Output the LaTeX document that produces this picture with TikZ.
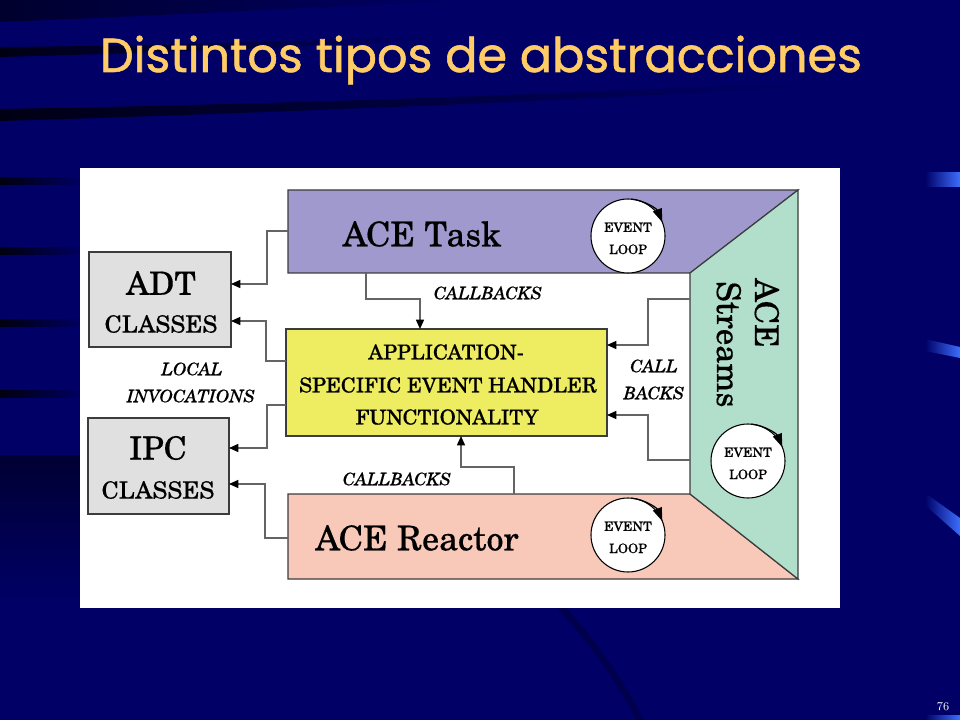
\documentclass[tikz,border=0pt]{standalone}
\usepackage{fontspec}
\newfontfamily\titlefont{Poppins}[FakeBold=1.2]
\newfontfamily\diafont{TeX Gyre Schola}[FakeBold=0.4]
\usetikzlibrary{arrows.meta,fadings}
\definecolor{navybg}{RGB}{0,0,102}
\definecolor{titlecol}{RGB}{255,204,102}
\definecolor{taskcol}{RGB}{160,153,205}
\definecolor{streamcol}{RGB}{178,222,204}
\definecolor{reactcol}{RGB}{248,200,184}
\definecolor{appcol}{RGB}{238,236,96}
\definecolor{classcol}{RGB}{224,224,224}
\definecolor{conncol}{RGB}{100,100,100}
\definecolor{edgecol}{RGB}{60,60,60}
\definecolor{barblue}{RGB}{60,110,255}
\begin{document}
\begin{tikzpicture}[x=0.75pt,y=-0.75pt,
  box/.style={draw=edgecol,line width=0.9pt,inner sep=0pt},
  shapeedge/.style={draw=edgecol,line width=0.9pt},
  conn/.style={draw=conncol,line width=1.1pt,-{Triangle[length=7pt,width=6pt,color=black]}},
  bigtxt/.style={inner sep=0pt,font=\diafont\fontsize{25.5pt}{30pt}\selectfont},
  strtxt/.style={inner sep=0pt,font=\diafont\fontsize{24.5pt}{30pt}\selectfont},
  adttxt/.style={inner sep=0pt,font=\diafont\fontsize{24pt}{28pt}\selectfont},
  clstxt/.style={inner sep=0pt,font=\diafont\fontsize{17.8pt}{21pt}\selectfont},
  apptxt/.style={inner sep=0pt,font=\diafont\fontsize{15.5pt}{18pt}\selectfont},
  lbltxt/.style={inner sep=0pt,font=\diafont\itshape\fontsize{13pt}{15pt}\selectfont},
  looptxt/.style={inner sep=0pt,font=\diafont\fontsize{9.8pt}{11pt}\selectfont},
  loopcirc/.style={circle,draw=black,line width=0.8pt,fill=white,minimum size=55.5pt,inner sep=0pt},
  looparrow/.style={draw=black,line width=0.9pt,-{Triangle[length=10pt,width=7pt]}}
]
\useasboundingbox (0,0) rectangle (960,720);
% background
\fill[navybg] (0,0) rectangle (960,720);
\fill[black,opacity=0.55,path fading=east] (0,0) -- (470,0) .. controls (300,8) and (150,16) .. (0,22) -- cycle;
\fill[black,opacity=0.8,path fading=east] (0,47) .. controls (150,46) and (300,41) .. (430,36) -- (430,40) .. controls (300,47) and (150,53) .. (0,57) -- cycle;
\fill[black,opacity=0.8,path fading=east] (0,109) .. controls (300,104) and (600,92) .. (800,83) -- (800,87) .. controls (600,99) and (300,112) .. (0,121) -- cycle;
\foreach \yy in {181,251,323,394} {
  \fill[black,opacity=0.85,path fading=east] (0,\yy-4) rectangle (85,\yy+4);
}
\fill[black,opacity=0.5,path fading=south] (0,455) rectangle (80,600);
\draw[black,opacity=0.25,line width=5pt] (560,606) .. controls (600,650) and (625,690) .. (640,720);
% right-hand blue bars
\shade[left color=navybg,right color=barblue] (925,173) rectangle (960,187);
\shade[left color=navybg,right color=barblue] (925,339) -- (960,347) -- (960,358) -- (925,351) -- cycle;
\shade[left color=navybg,right color=barblue] (925,493) -- (960,518) -- (960,536) -- (925,505) -- cycle;
\shade[left color=navybg,right color=barblue] (925,715) rectangle (960,720);
\node[text=white,inner sep=0pt,font=\fontsize{9pt}{10pt}\selectfont] (pnum) at (943,707) {76};
% title
\node[anchor=base,inner sep=0pt,text=titlecol,font=\titlefont\fontsize{35.8pt}{40pt}\selectfont] (title) at (481,72) {Distintos tipos de abstracciones};
% white panel
\fill[white] (80,168) rectangle (840,608);
% big shapes
\filldraw[fill=taskcol,shapeedge] (288,190) -- (798,190) -- (690,273) -- (288,273) -- cycle;
\filldraw[fill=reactcol,shapeedge] (288,494) -- (690,494) -- (798,579) -- (288,579) -- cycle;
\filldraw[fill=streamcol,shapeedge] (798,190) -- (798,579) -- (690,494) -- (690,273) -- cycle;
% boxes
\node[box,fill=classcol,minimum width=106.5pt,minimum height=71.25pt] (adt) at (160,299.5) {};
\node[box,fill=classcol,minimum width=105.75pt,minimum height=72pt] (ipc) at (158.5,466) {};
\node[box,fill=appcol,minimum width=240.75pt,minimum height=80.25pt] (app) at (446.5,382.5) {};
% texts
\node[bigtxt] (tasktxt) at (422,234) {ACE Task};
\node[bigtxt] (reacttxt) at (417,538) {ACE Reactor};
\node[strtxt,rotate=-90,anchor=base west] (streams1) at (755,278) {ACE};
\node[strtxt,rotate=-90,anchor=base west] (streams2) at (717,281) {Streams};
\node[adttxt] (adttxt) at (161,283) {ADT};
\node[clstxt] (adtcls) at (161,324) {CLASSES};
\node[adttxt] (ipctxt) at (158,448) {IPC};
\node[clstxt] (ipccls) at (158,490) {CLASSES};
\node[apptxt] (app1) at (446,352) {APPLICATION-};
\node[apptxt] (app2) at (448,385) {SPECIFIC EVENT HANDLER};
\node[apptxt] (app3) at (447,417) {FUNCTIONALITY};
\node[lbltxt] (cbtop) at (488,293) {CALLBACKS};
\node[lbltxt] (local) at (192,369) {LOCAL};
\node[lbltxt] (invoc) at (191,396) {INVOCATIONS};
\node[lbltxt] (call) at (654,366) {CALL};
\node[lbltxt] (backs) at (654,393) {BACKS};
\node[lbltxt] (cbbot) at (397,479) {CALLBACKS};
% event loops
\node[loopcirc] (loopT) at (628,236) {};
\node[loopcirc] (loopR) at (628,535) {};
\node[loopcirc] (loopS) at (748,461) {};
\foreach \c in {loopT,loopR,loopS} {
  \draw[looparrow] (\c) ++(-85:37) arc (-85:-22:37);
  \node[looptxt] at ([yshift=6.5pt]\c.center) {EVENT};
  \node[looptxt] at ([yshift=-10pt]\c.center) {LOOP};
}
% connector end points
\coordinate (tL) at (288,231);
\coordinate (tB) at (366,273);
\coordinate (rL) at (288,538);
\coordinate (rT) at (514,494);
\coordinate (sT) at (690,299);
\coordinate (sB) at (690,460);
\coordinate (appL1) at (286,361);
\coordinate (appL2) at (286,405);
\coordinate (appT) at (420,329);
\coordinate (appB) at (461,436);
\coordinate (appR1) at (607,345);
\coordinate (appR2) at (607,415);
\coordinate (adtR1) at (231,284);
\coordinate (adtR2) at (231,321);
\coordinate (ipcR1) at (229,448);
\coordinate (ipcR2) at (229,484);
% connectors
\draw[conn] (tL) -- (267,231) -- (267,284) -- (adtR1);
\draw[conn] (appL1) -- (266,361) -- (266,321) -- (adtR2);
\draw[conn] (appL2) -- (267,405) -- (267,448) -- (ipcR1);
\draw[conn] (rL) -- (265,538) -- (265,484) -- (ipcR2);
\draw[conn] (tB) -- (366,299) -- (420,299) -- (appT);
\draw[conn] (rT) -- (514,467) -- (461,467) -- (appB);
\draw[conn] (sT) -- (648,299) -- (648,345) -- (appR1);
\draw[conn] (sB) -- (648,460) -- (648,415) -- (appR2);
\end{tikzpicture}
\end{document}
